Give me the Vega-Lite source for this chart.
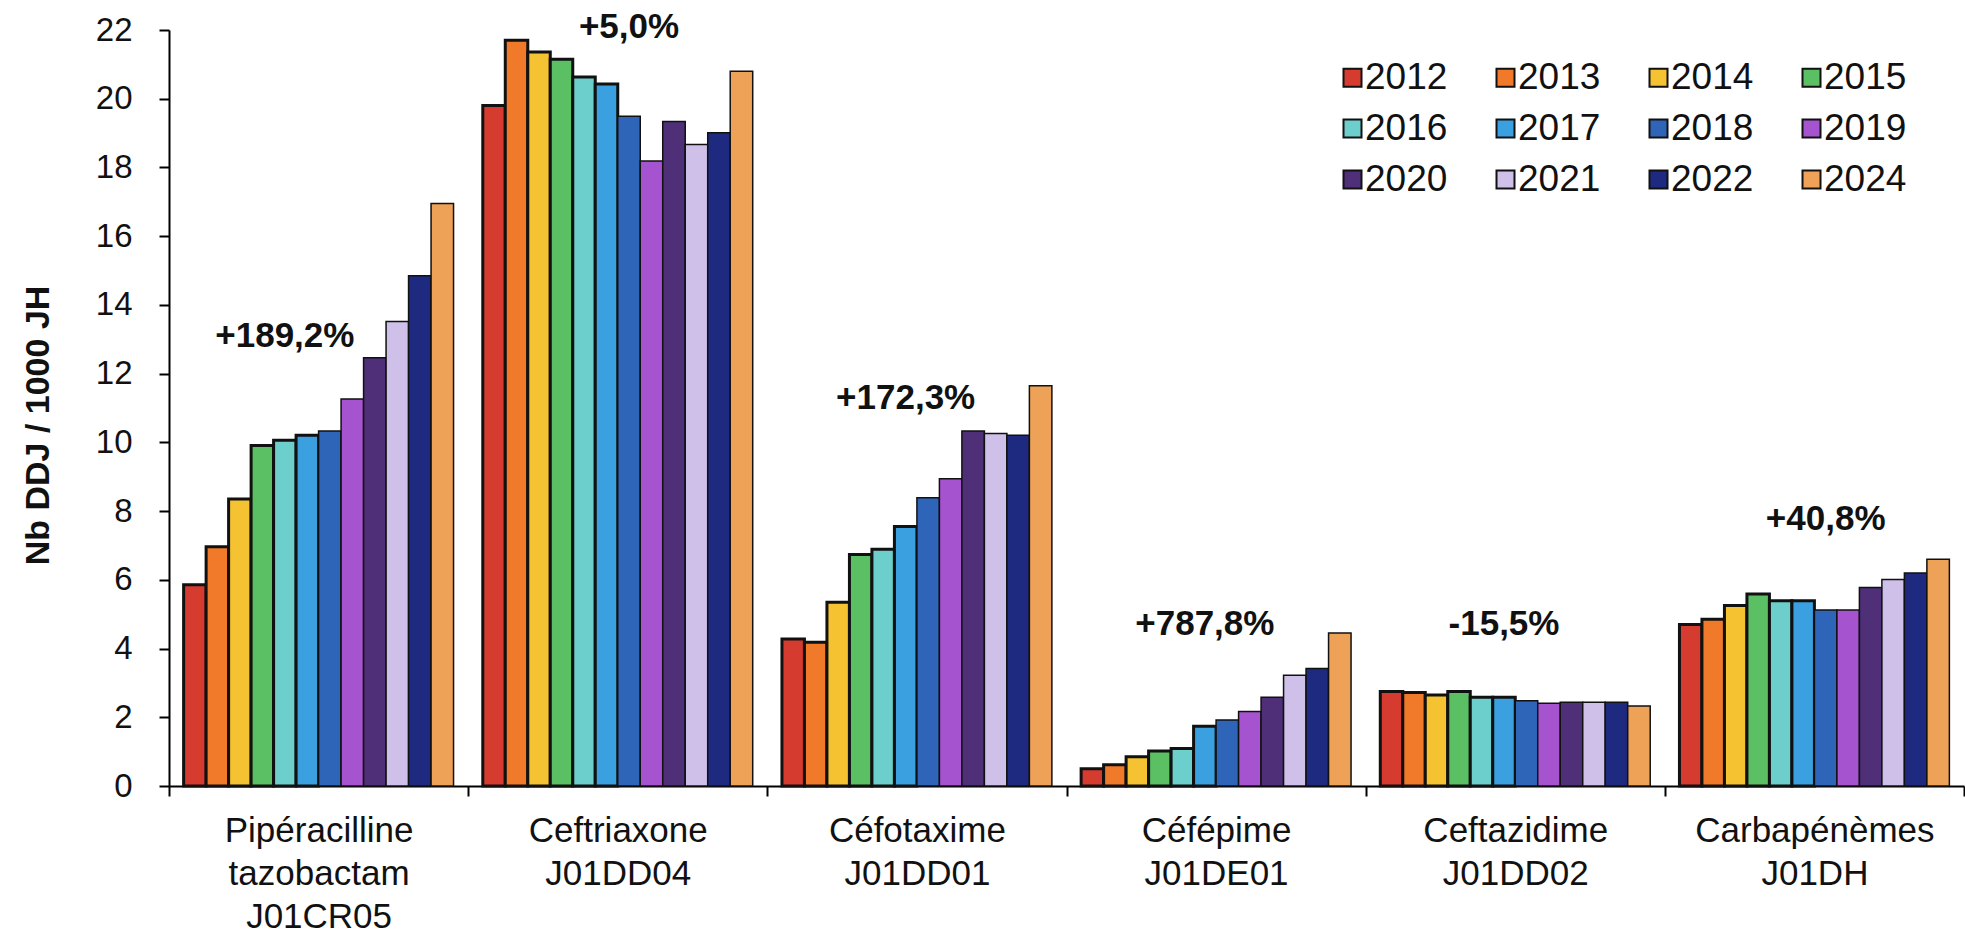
{
  "$schema": "https://vega.github.io/schema/vega-lite/v6.json",
  "width": 1795,
  "height": 756,
  "autosize": {"type": "none"},
  "padding": {"left": 169, "top": 30, "right": 1, "bottom": 147},
  "background": "white",
  "config": {
    "font": "Liberation Sans",
    "view": {"stroke": null},
    "axis": {"grid": false, "domainColor": "#000", "tickColor": "#000", "labelColor": "#111", "titleColor": "#111", "domainWidth": 2, "tickWidth": 2}
  },
  "datasets": {
    "bars": [
      {"g": "Pipéracilline tazobactam J01CR05", "year": "2012", "v": 5.86},
      {"g": "Pipéracilline tazobactam J01CR05", "year": "2013", "v": 6.96},
      {"g": "Pipéracilline tazobactam J01CR05", "year": "2014", "v": 8.35},
      {"g": "Pipéracilline tazobactam J01CR05", "year": "2015", "v": 9.91},
      {"g": "Pipéracilline tazobactam J01CR05", "year": "2016", "v": 10.06},
      {"g": "Pipéracilline tazobactam J01CR05", "year": "2017", "v": 10.21},
      {"g": "Pipéracilline tazobactam J01CR05", "year": "2018", "v": 10.33},
      {"g": "Pipéracilline tazobactam J01CR05", "year": "2019", "v": 11.26},
      {"g": "Pipéracilline tazobactam J01CR05", "year": "2020", "v": 12.46},
      {"g": "Pipéracilline tazobactam J01CR05", "year": "2021", "v": 13.52},
      {"g": "Pipéracilline tazobactam J01CR05", "year": "2022", "v": 14.85},
      {"g": "Pipéracilline tazobactam J01CR05", "year": "2024", "v": 16.95},
      {"g": "Ceftriaxone J01DD04", "year": "2012", "v": 19.8},
      {"g": "Ceftriaxone J01DD04", "year": "2013", "v": 21.7},
      {"g": "Ceftriaxone J01DD04", "year": "2014", "v": 21.36},
      {"g": "Ceftriaxone J01DD04", "year": "2015", "v": 21.15},
      {"g": "Ceftriaxone J01DD04", "year": "2016", "v": 20.63},
      {"g": "Ceftriaxone J01DD04", "year": "2017", "v": 20.43},
      {"g": "Ceftriaxone J01DD04", "year": "2018", "v": 19.49},
      {"g": "Ceftriaxone J01DD04", "year": "2019", "v": 18.19},
      {"g": "Ceftriaxone J01DD04", "year": "2020", "v": 19.34},
      {"g": "Ceftriaxone J01DD04", "year": "2021", "v": 18.67},
      {"g": "Ceftriaxone J01DD04", "year": "2022", "v": 19.01},
      {"g": "Ceftriaxone J01DD04", "year": "2024", "v": 20.8},
      {"g": "Céfotaxime J01DD01", "year": "2012", "v": 4.28},
      {"g": "Céfotaxime J01DD01", "year": "2013", "v": 4.18},
      {"g": "Céfotaxime J01DD01", "year": "2014", "v": 5.35},
      {"g": "Céfotaxime J01DD01", "year": "2015", "v": 6.74},
      {"g": "Céfotaxime J01DD01", "year": "2016", "v": 6.89},
      {"g": "Céfotaxime J01DD01", "year": "2017", "v": 7.55},
      {"g": "Céfotaxime J01DD01", "year": "2018", "v": 8.39},
      {"g": "Céfotaxime J01DD01", "year": "2019", "v": 8.94},
      {"g": "Céfotaxime J01DD01", "year": "2020", "v": 10.33},
      {"g": "Céfotaxime J01DD01", "year": "2021", "v": 10.26},
      {"g": "Céfotaxime J01DD01", "year": "2022", "v": 10.21},
      {"g": "Céfotaxime J01DD01", "year": "2024", "v": 11.65},
      {"g": "Céfépime J01DE01", "year": "2012", "v": 0.5},
      {"g": "Céfépime J01DE01", "year": "2013", "v": 0.62},
      {"g": "Céfépime J01DE01", "year": "2014", "v": 0.85},
      {"g": "Céfépime J01DE01", "year": "2015", "v": 1.02},
      {"g": "Céfépime J01DE01", "year": "2016", "v": 1.09},
      {"g": "Céfépime J01DE01", "year": "2017", "v": 1.74},
      {"g": "Céfépime J01DE01", "year": "2018", "v": 1.92},
      {"g": "Céfépime J01DE01", "year": "2019", "v": 2.17},
      {"g": "Céfépime J01DE01", "year": "2020", "v": 2.58},
      {"g": "Céfépime J01DE01", "year": "2021", "v": 3.22},
      {"g": "Céfépime J01DE01", "year": "2022", "v": 3.42},
      {"g": "Céfépime J01DE01", "year": "2024", "v": 4.45},
      {"g": "Ceftazidime J01DD02", "year": "2012", "v": 2.75},
      {"g": "Ceftazidime J01DD02", "year": "2013", "v": 2.72},
      {"g": "Ceftazidime J01DD02", "year": "2014", "v": 2.65},
      {"g": "Ceftazidime J01DD02", "year": "2015", "v": 2.75},
      {"g": "Ceftazidime J01DD02", "year": "2016", "v": 2.58},
      {"g": "Ceftazidime J01DD02", "year": "2017", "v": 2.58},
      {"g": "Ceftazidime J01DD02", "year": "2018", "v": 2.48},
      {"g": "Ceftazidime J01DD02", "year": "2019", "v": 2.41},
      {"g": "Ceftazidime J01DD02", "year": "2020", "v": 2.44},
      {"g": "Ceftazidime J01DD02", "year": "2021", "v": 2.44},
      {"g": "Ceftazidime J01DD02", "year": "2022", "v": 2.44},
      {"g": "Ceftazidime J01DD02", "year": "2024", "v": 2.33},
      {"g": "Carbapénèmes J01DH", "year": "2012", "v": 4.7},
      {"g": "Carbapénèmes J01DH", "year": "2013", "v": 4.85},
      {"g": "Carbapénèmes J01DH", "year": "2014", "v": 5.25},
      {"g": "Carbapénèmes J01DH", "year": "2015", "v": 5.59},
      {"g": "Carbapénèmes J01DH", "year": "2016", "v": 5.39},
      {"g": "Carbapénèmes J01DH", "year": "2017", "v": 5.39},
      {"g": "Carbapénèmes J01DH", "year": "2018", "v": 5.12},
      {"g": "Carbapénèmes J01DH", "year": "2019", "v": 5.12},
      {"g": "Carbapénèmes J01DH", "year": "2020", "v": 5.78},
      {"g": "Carbapénèmes J01DH", "year": "2021", "v": 6.01},
      {"g": "Carbapénèmes J01DH", "year": "2022", "v": 6.2},
      {"g": "Carbapénèmes J01DH", "year": "2024", "v": 6.6}
    ],
    "notes": [
      {"g": "Pipéracilline tazobactam J01CR05", "year": "2016", "v": 13.1, "label": "+189,2%"},
      {"g": "Ceftriaxone J01DD04", "year": "2018", "v": 22.1, "label": "+5,0%"},
      {"g": "Céfotaxime J01DD01", "year": "2017", "v": 11.3, "label": "+172,3%"},
      {"g": "Céfépime J01DE01", "year": "2017", "v": 4.7, "label": "+787,8%"},
      {"g": "Ceftazidime J01DD02", "year": "2017", "v": 4.7, "label": "-15,5%"},
      {"g": "Carbapénèmes J01DH", "year": "2018", "v": 7.77, "label": "+40,8%"}
    ]
  },
  "layer": [
    {
      "data": {"name": "bars"},
      "mark": {"type": "bar", "stroke": "#111"},
      "encoding": {
        "x": {
          "field": "g", "type": "nominal",
          "scale": {"domain": ["Pipéracilline tazobactam J01CR05", "Ceftriaxone J01DD04", "Céfotaxime J01DD01", "Céfépime J01DE01", "Ceftazidime J01DD02", "Carbapénèmes J01DH"], "paddingInner": 0, "paddingOuter": 0},
          "axis": {"title": null, "labelAngle": 0, "labelExpr": "split(datum.label, ' ')", "labelLimit": 0, "labelFontSize": 35, "labelLineHeight": 43, "labelPadding": 17, "tickSize": 10, "tickBand": "extent", "labelBaseline": "top"}
        },
        "xOffset": {
          "field": "year", "type": "nominal",
          "scale": {"domain": ["2012", "2013", "2014", "2015", "2016", "2017", "2018", "2019", "2020", "2021", "2022", "2024"], "paddingInner": 0, "paddingOuter": 0.65}
        },
        "y": {
          "field": "v", "type": "quantitative",
          "scale": {"domain": [0, 22], "nice": false},
          "axis": {"title": "Nb DDJ / 1000 JH", "values": [0, 2, 4, 6, 8, 10, 12, 14, 16, 18, 20, 22], "labelFontSize": 33, "labelPadding": 27, "tickSize": 10, "titleFontSize": 34, "titleFontWeight": "bold", "titleX": -131, "titleY": 395, "titleAngle": -90, "titleAlign": "center", "titleBaseline": "middle"}
        },
        "color": {
          "field": "year", "type": "nominal",
          "scale": {
            "domain": ["2012", "2013", "2014", "2015", "2016", "2017", "2018", "2019", "2020", "2021", "2022", "2024"],
            "range": ["#d63b2f", "#f07a2a", "#f5c232", "#5bbf63", "#6ccfcc", "#3aa0e0", "#2e65b8", "#a653cf", "#4e2f78", "#cfc0ea", "#1e2a80", "#eea257"]
          },
          "legend": {"title": null, "orient": "none", "legendX": 1165, "legendY": 29, "columns": 4, "direction": "horizontal", "symbolType": "square", "symbolSize": 324, "symbolStrokeColor": "#111", "symbolStrokeWidth": 2, "symbolOpacity": 1, "labelFontSize": 37, "labelColor": "#111", "labelOffset": -6, "columnPadding": 39, "rowPadding": 13}
        },
        "strokeWidth": {"condition": {"test": "datum.year <= '2017'", "value": 3}, "value": 1.5}
      }
    },
    {
      "data": {"name": "notes"},
      "mark": {"type": "text", "fontSize": 35, "fontWeight": "bold", "color": "#111", "align": "center", "baseline": "middle"},
      "encoding": {
        "x": {"field": "g", "type": "nominal"},
        "xOffset": {"field": "year", "type": "nominal"},
        "y": {"field": "v", "type": "quantitative"},
        "text": {"field": "label"}
      }
    }
  ]
}
